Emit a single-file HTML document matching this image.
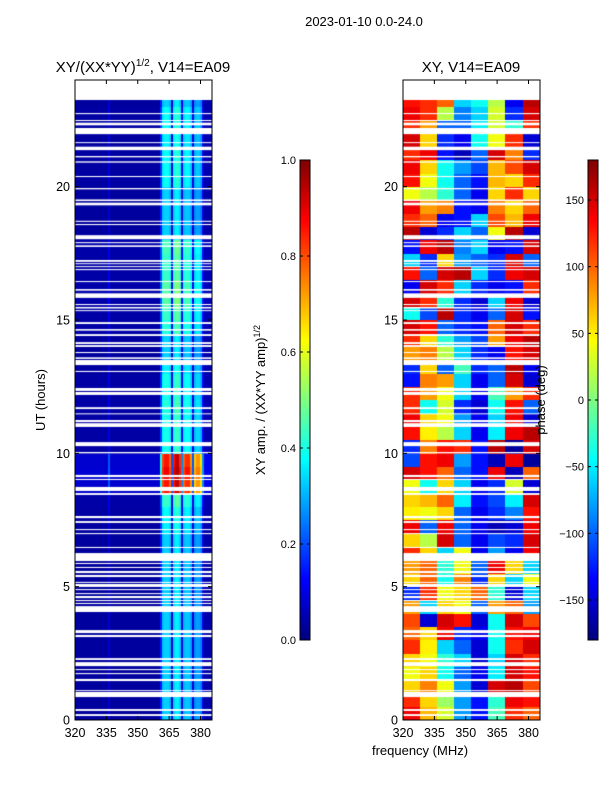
<!DOCTYPE html>
<html><head><meta charset="utf-8">
<style>
body{margin:0;background:#fff;width:600px;height:800px;overflow:hidden;font-family:"Liberation Sans",sans-serif;}
#root{position:relative;width:600px;height:800px;}
canvas{position:absolute;}
svg{position:absolute;left:0;top:0;}
text{font-family:"Liberation Sans",sans-serif;fill:#000;}
</style></head><body>
<div id="root">
<canvas id="ampC" width="137" height="640" style="left:75px;top:80px"></canvas>
<canvas id="phC" width="137" height="640" style="left:403px;top:80px"></canvas>
<canvas id="cb1" width="10" height="480" style="left:300px;top:160px"></canvas>
<canvas id="cb2" width="10" height="480" style="left:588px;top:160px"></canvas>
<svg id="ov" width="600" height="800"></svg>
</div>
<script>
// ---- data ----
const freqStart = 320, freqEnd = 385.5;
const ampProfile = [ // 1 MHz bins from 320 to 385
0.03,0.03,0.03,0.03,0.03,0.03,0.03,0.03,0.03,0.03,0.03,0.03,0.03,0.03,0.03,0.03,0.08,0.03,0.03,0.03,
0.03,0.03,0.03,0.03,0.03,0.03,0.03,0.03,0.03,0.03,0.03,0.03,0.03,0.03,0.03,0.03,0.03,0.03,0.03,0.03,
0.03,0.15,0.31,0.33,0.33,0.3,0.08,0.33,0.36,0.36,0.32,0.1,0.3,0.32,0.32,0.28,0.08,0.26,0.28,0.28,
0.25,0.1,0.04,0.04,0.04,0.04];
const ampRowLevel = [ // per half hour from 0h
1,1,1,1,1,1,1,1,1,1,1,1,1,1,1.1,1.15,1.3,2.6,2.7,2.6,1.2,1.2,1.2,1.25,1.2,1.2,1.1,1.0,1.0,1.25,1.3,1.4,1.4,1.3,1.3,1.35,1.0,1.0,1.0,1.0,1.15,1.15,1.15,1.1,1.15,1.15,1.0,1.0];
const phaseColMHz = 8.2;
const phaseRows = [ // per half hour from 0h, 8 frequency columns (deg)
[140,70,30,-80,-130,-20,120,100],[120,60,10,-80,-130,-30,140,130],[60,90,40,-80,-150,150,160,110],[40,60,-40,-100,-140,-50,150,130],
[60,40,-30,-60,-150,-60,150,120],[120,50,-60,-100,-150,-40,120,150],[100,60,140,-120,-140,-40,130,140],[110,-150,150,130,-150,-40,150,110],
[80,-60,60,40,-100,80,100,-80],[-120,120,40,60,100,-30,-150,-60],[60,100,-40,90,-120,60,-60,40],[80,100,-30,40,-100,140,60,-60],
[120,60,-60,40,-140,-80,-140,140],[60,20,150,-100,-140,-110,-120,150],[140,-100,140,-100,-140,-160,-150,140],[50,40,60,-100,-140,-120,-90,130],
[60,70,100,-50,-130,-110,-50,150],[40,-40,60,-60,-140,-120,30,-150],[150,130,100,-100,-130,140,-160,100],[-110,130,140,-80,-130,-160,140,-170],
[-120,90,130,120,-130,160,-170,150],[130,50,20,-60,-140,-50,140,160],[140,60,40,-80,-140,-60,140,-150],[120,-40,30,-120,-150,-40,130,-100],
[120,80,40,-60,-140,-20,80,120],[-130,90,80,-60,-140,-100,150,-150],[-120,60,-100,-20,-120,-100,160,-140],[80,90,20,-60,-120,-140,130,150],
[120,60,-30,-80,-110,80,140,160],[150,130,-100,-120,-130,100,150,120],[-40,-110,160,-120,-140,-100,150,-130],[150,120,-30,-120,-150,-60,140,-150],
[-140,150,120,-60,-120,-140,-130,120],[130,-100,150,160,-60,-120,140,150],[-60,-120,60,-80,-100,-120,150,-100],[-130,140,160,-90,-60,-140,-130,150],
[160,-150,-120,-60,-100,40,160,-150],[120,100,-140,-130,-60,110,70,140],[140,80,90,-130,-140,90,60,100],[40,20,-30,-100,-140,60,120,60],
[130,40,-40,-100,-130,70,60,120],[140,60,-40,-80,-110,70,110,150],[120,140,-130,-160,-100,150,90,-120],[150,60,-120,-140,-40,40,120,-150],
[120,80,-100,-100,-50,30,-30,120],[140,120,20,-90,-60,30,-120,150],[130,120,100,-60,-40,20,-140,160],[130,120,100,-60,-40,20,-140,160]];
const gaps = [ // flagged intervals [start h, end h]
[23.25,24],[22.72,22.76],[22.48,22.5],[22.3,22.4],[21.97,22.2],[21.64,21.67],[21.37,21.5],[21.1,21.15],[20.9,20.95],[20.36,20.4],
[19.9,19.95],[19.46,19.52],[19.3,19.4],[18.68,18.72],[18.56,18.6],[18.03,18.18],[17.88,17.92],[17.74,17.8],[17.18,17.25],[17.1,17.13],
[16.99,17.02],[16.87,16.91],[16.43,16.46],[16.1,16.16],[15.83,16.0],[15.56,15.6],[15.43,15.49],[15.34,15.37],[14.85,14.92],[14.6,14.66],
[14.4,14.47],[14.1,14.17],[13.99,14.06],[13.76,13.8],[13.54,13.6],[13.31,13.5],[13.05,13.09],[12.34,12.45],[12.19,12.3],
[11.66,11.73],[11.47,11.5],[11.17,11.25],[10.99,11.13],[10.27,10.42],[10.0,10.05],[9.11,9.19],[9.0,9.04],[8.59,8.74],[8.44,8.51],
[7.57,7.65],[7.39,7.46],[7.12,7.16],[6.97,7.01],[6.45,6.49],[5.96,6.26],[5.85,5.89],[5.7,5.74],[5.51,5.59],[5.36,5.44],[5.14,5.18],
[4.99,5.1],[4.87,4.91],[4.72,4.76],[4.57,4.65],[4.46,4.5],[4.35,4.39],[4.05,4.27],[3.26,3.37],[3.11,3.19],[2.25,2.32],[2.02,2.17],
[1.87,1.91],[1.72,1.76],[1.46,1.54],[1.09,1.12],[0.86,1.05],[0.34,0.41],[0.15,0.22]];
const xTicks = [320,335,350,365,380];
const yTicks = [0,5,10,15,20];
const ampTicks = [0.0,0.2,0.4,0.6,0.8,1.0];
const phaseTicks = [-150,-100,-50,0,50,100,150];

// ---- scales ----
const PW = 137, PH = 640;
const xs = f => (f - freqStart) / (freqEnd - freqStart) * PW;
const ys = h => PH - h / 24 * PH;
function jet(v){v=Math.max(0,Math.min(1,v));const c=t=>Math.round(255*Math.max(0,Math.min(1,t)));
 return `rgb(${c(1.5-Math.abs(4*v-3))},${c(1.5-Math.abs(4*v-2))},${c(1.5-Math.abs(4*v-1))})`;}

// amplitude
(function(){const ctx=document.getElementById('ampC').getContext('2d');
 ampRowLevel.forEach((lv,r)=>{const y0=ys((r+1)*0.5),y1=ys(r*0.5);
  ampProfile.forEach((p,i)=>{const x0=xs(320+i),x1=xs(321+i);ctx.fillStyle=jet(Math.min(0.95,p*lv));
   ctx.fillRect(Math.floor(x0),Math.floor(y0),Math.ceil(x1)-Math.floor(x0),Math.ceil(y1)-Math.floor(y0));});});
 ctx.fillStyle='#fff';gaps.forEach(g=>{const y0=ys(g[1]),y1=ys(g[0]);ctx.fillRect(0,y0,PW,Math.max(1,y1-y0));});})();
// phase
(function(){const ctx=document.getElementById('phC').getContext('2d');
 phaseRows.forEach((row,r)=>{const y0=ys((r+1)*0.5),y1=ys(r*0.5);
  row.forEach((ph,i)=>{const x0=xs(320+i*phaseColMHz),x1=xs(320+(i+1)*phaseColMHz);ctx.fillStyle=jet((ph+180)/360);
   ctx.fillRect(Math.floor(x0),Math.floor(y0),Math.ceil(x1)-Math.floor(x0),Math.ceil(y1)-Math.floor(y0));});});
 ctx.fillStyle='#fff';gaps.forEach(g=>{const y0=ys(g[1]),y1=ys(g[0]);ctx.fillRect(0,y0,PW,Math.max(1,y1-y0));});})();
// colorbars
['cb1','cb2'].forEach(id=>{const ctx=document.getElementById(id).getContext('2d');
 for(let y=0;y<480;y++){ctx.fillStyle=jet(1-y/479);ctx.fillRect(0,y,10,1);}});

// ---- overlay ----
const NS='http://www.w3.org/2000/svg';const ov=document.getElementById('ov');
function mk(tag,attrs,txt){const e=document.createElementNS(NS,tag);for(const k in attrs)e.setAttribute(k,attrs[k]);if(txt!==undefined)e.textContent=txt;ov.appendChild(e);return e;}
[75,403].forEach((px,pi)=>{
 const fr=mk('rect',{x:px,y:80,width:PW,height:PH,fill:'none',stroke:'#000','stroke-width':1});
 
 
 xTicks.forEach(t=>{const x=px+xs(t);
  mk('line',{x1:x,x2:x,y1:720,y2:716,stroke:'#000'});mk('line',{x1:x,x2:x,y1:80,y2:84,stroke:'#000'});
  const l=mk('text',{x:x,y:737,'font-size':12.5,'text-anchor':'middle'},String(t));
  
  });
 yTicks.forEach(t=>{const y=80+ys(t);
  mk('line',{x1:px,x2:px+4,y1:y,y2:y,stroke:'#000'});mk('line',{x1:px+PW,x2:px+PW-4,y1:y,y2:y,stroke:'#000'});
  const l=mk('text',{x:px-5,y:y+4.5,'font-size':12.5,'text-anchor':'end'},String(t));
  
  });
});
[[300,ampTicks,v=>v.toFixed(1),0,1],[588,phaseTicks,v=>v<0?'\u2212'+(-v):String(v),-180,180]].forEach(([cx,ticks,fmt,lo,hi],ci)=>{
 const fr=mk('rect',{x:cx,y:160,width:10,height:480,fill:'none',stroke:'#000'});
 
 
 ticks.forEach(t=>{const y=640-(t-lo)/(hi-lo)*480;
  mk('line',{x1:cx,x2:cx+3,y1:y,y2:y,stroke:'#000'});mk('line',{x1:cx+10,x2:cx+7,y1:y,y2:y,stroke:'#000'});
  const l=mk('text',{x:cx-4,y:y+4,'font-size':11,'text-anchor':'end'},fmt(t));
  
  });
});
</script>
<svg width="600" height="800" style="pointer-events:none">
<text x="364" y="26" font-size="13" text-anchor="middle">2023-01-10 0.0-24.0</text>
<text x="143" y="72" font-size="15" text-anchor="middle">XY/(XX*YY)<tspan font-size="10" dy="-6">1/2</tspan><tspan dy="6">, V14=EA09</tspan></text>
<text x="471" y="72" font-size="15" text-anchor="middle">XY, V14=EA09</text>
<text transform="translate(45,400) rotate(-90)" font-size="13" text-anchor="middle">UT (hours)</text>
<text x="420" y="755" font-size="13" text-anchor="middle">frequency (MHz)</text>
<text transform="translate(265,400) rotate(-90)" font-size="13" text-anchor="middle">XY amp. / (XX*YY amp)<tspan font-size="9" dy="-5">1/2</tspan></text>
<text transform="translate(545,400) rotate(-90)" font-size="13" text-anchor="middle">phase (deg)</text>
</svg>
</body></html>
